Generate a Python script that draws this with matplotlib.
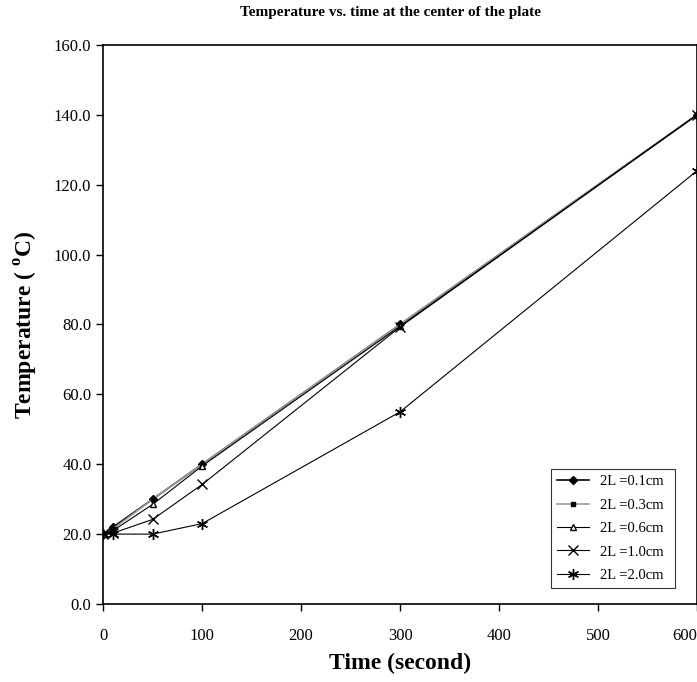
import matplotlib
matplotlib.use("Agg")
import matplotlib.pyplot as plt
from matplotlib.ticker import FormatStrFormatter

plt.rcParams['font.family'] = ['Liberation Serif', 'DejaVu Serif']
plt.rcParams['mathtext.fontset'] = 'custom'
plt.rcParams['mathtext.rm'] = 'Liberation Serif'
plt.rcParams['mathtext.bf'] = 'Liberation Serif:bold'

time_s = [0, 10, 50, 100, 300, 600]
temp_01 = [20, 22, 30, 40, 80, 140]
temp_03 = [20, 21.5, 30, 40, 80, 140]
temp_06 = [20, 21, 28.5, 39.5, 79.5, 140]
temp_10 = [20, 20.3, 24.2, 34.2, 79.3, 140]
temp_20 = [20, 20, 20, 23, 55, 124]
labels = ['2L =0.1cm', '2L =0.3cm', '2L =0.6cm', '2L =1.0cm', '2L =2.0cm']

fig = plt.figure(figsize=(6.97, 6.82), dpi=100)
ax = fig.add_axes([0.148, 0.1144, 0.852, 0.8196])

ax.plot(time_s, temp_01, color='black', lw=1.2, marker='D', ms=4, label=labels[0])
ax.plot(time_s, temp_03, color='#999999', lw=1.2, marker='s', ms=3,
        mfc='black', mec='black', label=labels[1])
ax.plot(time_s, temp_06, color='black', lw=0.8, marker='^', ms=4,
        mfc='white', mec='black', label=labels[2])
ax.plot(time_s, temp_10, color='black', lw=0.8, marker='x', ms=7, label=labels[3])
ax.plot(time_s, temp_20, color='black', lw=0.8, marker=(6, 2, 0), ms=8, label=labels[4])

ax.set_xlim(0, 600)
ax.set_ylim(0, 160)
ax.set_xticks(range(0, 601, 100))
ax.set_yticks(range(0, 161, 20))
ax.yaxis.set_major_formatter(FormatStrFormatter('%.1f'))
ax.tick_params(direction='out', labelsize=12, length=5, width=1)
ax.tick_params(axis='x', pad=12)
ax.get_xticklabels()[-1].set_horizontalalignment('right')
for s in ax.spines.values():
    s.set_linewidth(1.2)

ax.set_xlabel('Time (second)', fontsize=17, fontweight='bold', labelpad=7)
ax.set_ylabel(r'Temperature ( $^{\mathbf{o}}$C)', fontsize=17, fontweight='bold', labelpad=10)
fig.text(0.56, 0.982, 'Temperature vs. time at the center of the plate',
         ha='center', va='center', fontsize=11, fontweight='bold')

leg = ax.legend(loc='lower left', bbox_to_anchor=(0.754, 0.029, 0.209, 0.238),
                mode='expand', fontsize=10.5, frameon=True, fancybox=False,
                borderaxespad=0, handlelength=2.2, labelspacing=0.7)
leg.get_frame().set_edgecolor('black')
leg.get_frame().set_linewidth(0.8)

fig.savefig('out.png', dpi=100)
